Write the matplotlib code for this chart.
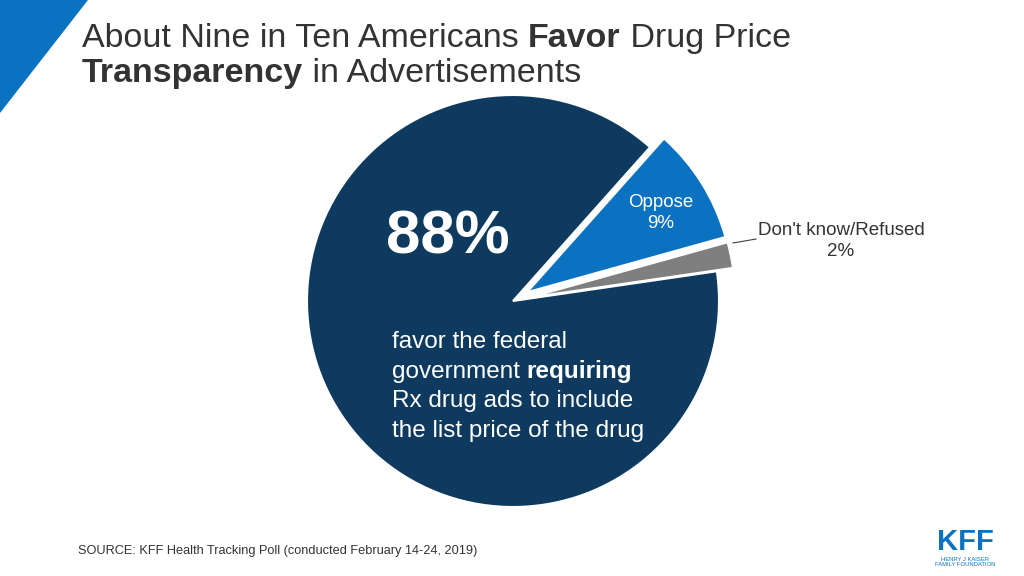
import matplotlib
matplotlib.use("Agg")
import matplotlib.pyplot as plt
from matplotlib.patches import Polygon

# ---- data ----
categories = ["Favor", "Oppose", "Don't know/Refused"]
values = [88, 9, 2]
colors = ["#0e3a5f", "#0a72c1", "#7f7f7f"]
title_parts_line1 = [("About Nine in Ten Americans ", "normal"), ("Favor", "bold"), (" Drug Price", "normal")]
title_parts_line2 = [("Transparency", "bold"), (" in Advertisements", "normal")]
body_lines = [
    [("favor the federal", "normal")],
    [("government ", "normal"), ("requiring", "bold")],
    [("Rx drug ads to include", "normal")],
    [("the list price of the drug", "normal")],
]
source_text = "SOURCE: KFF Health Tracking Poll (conducted February 14-24, 2019)"

plt.rcParams['font.family'] = ['Liberation Sans', 'DejaVu Sans']

W, H = 1024, 576
fig = plt.figure(figsize=(W / 100, H / 100), dpi=100)
ax = fig.add_axes([0, 0, 1, 1])

# pie in pixel coordinates (y up)
cx, cy, r = 513, H - 301, 206
order = [2, 1, 0]  # start with Don't know, then Oppose, then Favor (counter-clockwise)
wedges, _ = ax.pie([values[i] for i in order],
                   colors=[colors[i] for i in order],
                   explode=[0.08 * r, 0.08 * r, 0.0],
                   startangle=8.3, counterclock=True,
                   center=(cx, cy), radius=r,
                   wedgeprops=dict(edgecolor="white", linewidth=1.5))
ax.set_xlim(0, W)
ax.set_ylim(0, H)
ax.set_aspect('equal')
ax.axis('off')

# top-left triangle
ax.add_patch(Polygon([(0, H), (88, H), (0, H - 113)], closed=True,
                     facecolor="#0a72c1", edgecolor="none"))

fig.canvas.draw()
renderer = fig.canvas.get_renderer()


def rich_line(parts, x, y, size, color):
    for txt, weight in parts:
        t = ax.text(x, y, txt, fontsize=size, fontweight=weight, color=color,
                    ha='left', va='baseline')
        bb = t.get_window_extent(renderer=renderer)
        x += bb.width


# title
rich_line(title_parts_line1, 82, H - 47, 24.5, "#333333")
rich_line(title_parts_line2, 82, H - 82, 24.5, "#333333")

# big number
ax.text(386, H - 253, "88%", fontsize=44.5, fontweight='bold', color="white",
        ha='left', va='baseline')

# body
for i, parts in enumerate(body_lines):
    rich_line(parts, 392, H - (348 + i * 29.6), 17.5, "white")

# slice labels
ax.text(661, H - 213, "Oppose\n9%", fontsize=13.5, color="white", ha='center',
        va='center', linespacing=1.3)
ax.text(841, H - 241, "Don't know/Refused\n2%", fontsize=13.5, color="#333333",
        ha='center', va='center', linespacing=1.3)
ax.plot([733, 756], [H - 243, H - 239], color="#404040", lw=0.8)

# source
ax.text(78, H - 551, source_text, fontsize=9.2, color="#333333", ha='left', va='center')

# logo
ax.text(965, H - 542, "KFF", fontsize=21, fontweight='bold', color="#0a72c1",
        ha='center', va='center')
ax.text(965, H - 562, "HENRY J KAISER\nFAMILY FOUNDATION", fontsize=4.2,
        color="#0a72c1", ha='center', va='center', linespacing=1.1)

fig.savefig("out.png", dpi=100)
